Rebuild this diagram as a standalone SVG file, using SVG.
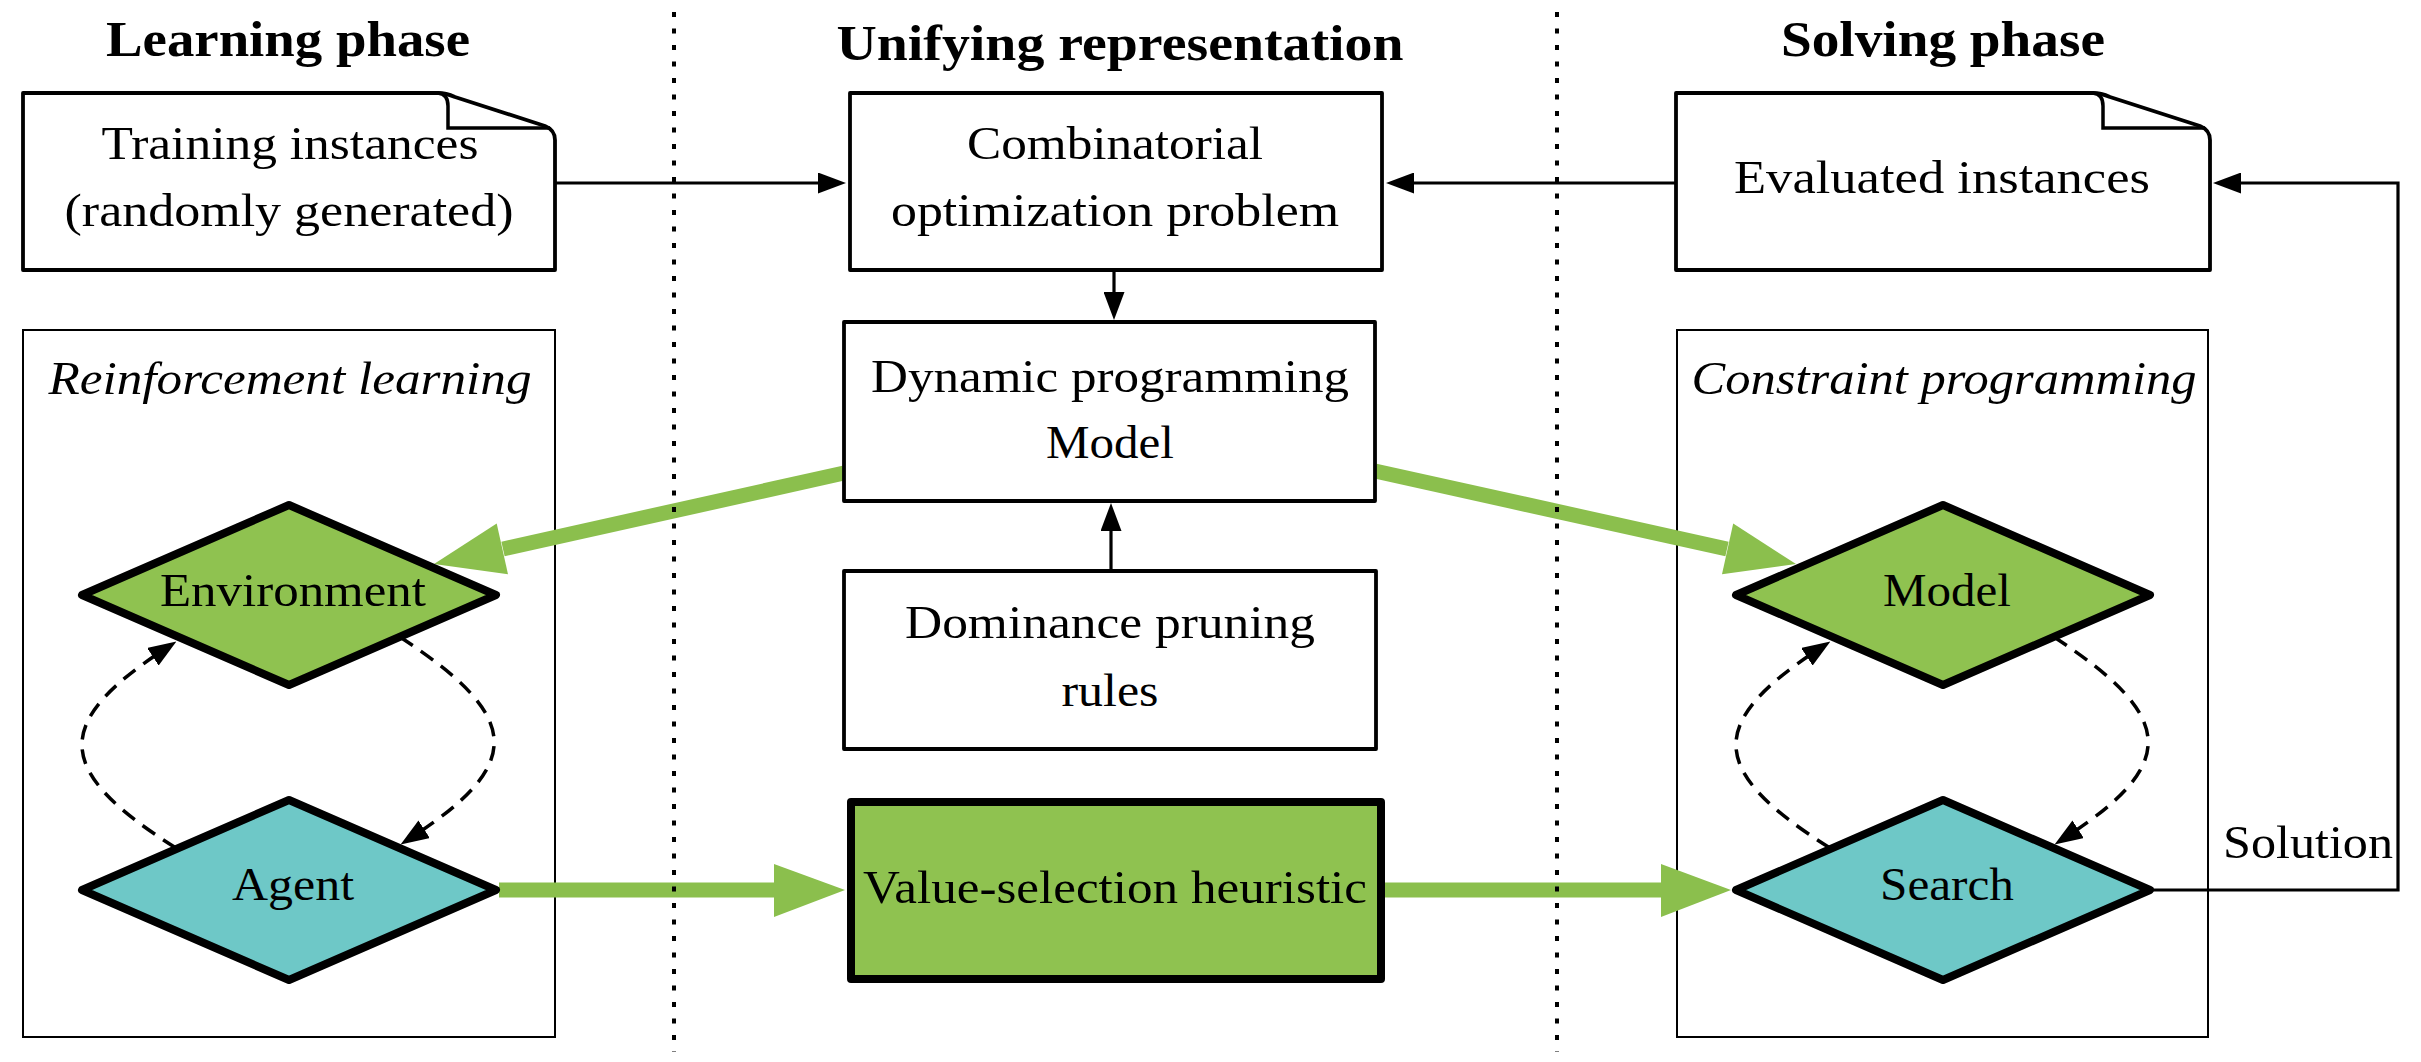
<svg xmlns="http://www.w3.org/2000/svg" width="2421" height="1062" viewBox="0 0 2421 1062">
<style>
.box{fill:#fff;stroke:#000;stroke-width:3.8;stroke-linejoin:round}
.cont{fill:none;stroke:#000;stroke-width:2}
.dia{stroke:#000;stroke-width:8;stroke-linejoin:round}
.green{fill:#8fc250}
.teal{fill:#6ec8c7}
.t{font-family:"Liberation Serif","Times New Roman",serif;font-size:46px;text-anchor:middle;fill:#000}
.h{font-weight:bold;font-size:50px}
.i{font-style:italic}
.ln{fill:none;stroke:#000;stroke-width:3.2}
.dash{stroke-width:3.5;stroke-dasharray:15 10}
.g{fill:none;stroke:#8bbf4d;stroke-width:15}
.gh{fill:#8bbf4d}
.dot{fill:none;stroke:#000;stroke-width:4;stroke-dasharray:5 11.5}
</style>
<defs>
<marker id="ah" markerUnits="userSpaceOnUse" viewBox="0 0 28 21" markerWidth="28" markerHeight="21" refX="18" refY="10.5" orient="auto">
<path d="M0,0 L28,10.5 L0,21 Z" fill="#000"/>
</marker>
</defs>
<rect width="2421" height="1062" fill="#fff"/>

<g id="headers">
<text class="t h" x="288" y="56" textLength="364" lengthAdjust="spacingAndGlyphs">Learning phase</text>
<text class="t h" x="1120" y="60" textLength="567" lengthAdjust="spacingAndGlyphs">Unifying representation</text>
<text class="t h" x="1943" y="56" textLength="324" lengthAdjust="spacingAndGlyphs">Solving phase</text>
</g>

<g id="rl-container">
<rect class="cont" x="23" y="330" width="532" height="707"/>
<text class="t i" x="290" y="394" textLength="483" lengthAdjust="spacingAndGlyphs">Reinforcement learning</text>
</g>
<g id="cp-container">
<rect class="cont" x="1677" y="330" width="531" height="707"/>
<text class="t i" x="1944" y="394" textLength="505" lengthAdjust="spacingAndGlyphs">Constraint programming</text>
</g>

<g id="connectors">
<path class="ln" d="M555,183 H836" marker-end="url(#ah)"/>
<path class="ln" d="M1676,183 H1396" marker-end="url(#ah)"/>
<path class="ln" d="M1114,270 V310" marker-end="url(#ah)"/>
<path class="ln" d="M1111,571 V513" marker-end="url(#ah)"/>
<path class="ln" d="M2150,890 H2398 V183 H2223" marker-end="url(#ah)"/>
<path class="ln dash" d="M176,848 C52,770 52,722 168,647" marker-end="url(#ah)"/>
<path class="ln dash" d="M400,637 C524,718 524,765 409,839" marker-end="url(#ah)"/>
<path class="ln dash" d="M1830,848 C1706,770 1706,722 1822,647" marker-end="url(#ah)"/>
<path class="ln dash" d="M2054,637 C2178,718 2178,765 2063,839" marker-end="url(#ah)"/>
<line class="g" x1="844" y1="473" x2="503" y2="549"/>
<polygon class="gh" points="434,564 508,574.2 496.7,523.4"/>
<line class="g" x1="1375" y1="471" x2="1727" y2="549"/>
<polygon class="gh" points="1796,564 1722,574.3 1733.2,523.5"/>
<line class="g" x1="499" y1="890" x2="776" y2="890"/>
<polygon class="gh" points="845,890 774,864 774,917"/>
<line class="g" x1="1385" y1="890" x2="1663" y2="890"/>
<polygon class="gh" points="1731,890 1661,864 1661,917"/>
<text class="t" x="2308" y="858" textLength="170" lengthAdjust="spacingAndGlyphs">Solution</text>
</g>

<g id="training">
<path class="box" d="M23,93 H438 Q446,93 455,97 L545,126 Q555,130 555,140 V270 H23 Z"/>
<path class="ln" style="stroke-width:3.5" d="M438,93 Q448,94 448,106 V128 H550"/>
<text class="t" x="290" y="159" textLength="377" lengthAdjust="spacingAndGlyphs">Training instances</text>
<text class="t" x="289" y="226" textLength="449" lengthAdjust="spacingAndGlyphs">(randomly generated)</text>
</g>

<g id="evaluated">
<path class="box" d="M1676,93 H2093 Q2101,93 2110,97 L2200,126 Q2210,130 2210,140 V270 H1676 Z"/>
<path class="ln" style="stroke-width:3.5" d="M2093,93 Q2103,94 2103,106 V128 H2205"/>
<text class="t" x="1942" y="193" textLength="416" lengthAdjust="spacingAndGlyphs">Evaluated instances</text>
</g>

<g id="combinatorial">
<rect class="box" x="850" y="93" width="532" height="177"/>
<text class="t" x="1115" y="159" textLength="296" lengthAdjust="spacingAndGlyphs">Combinatorial</text>
<text class="t" x="1115" y="226" textLength="448" lengthAdjust="spacingAndGlyphs">optimization problem</text>
</g>

<g id="dp-model">
<rect class="box" x="844" y="322" width="531" height="179"/>
<text class="t" x="1110" y="392" textLength="478" lengthAdjust="spacingAndGlyphs">Dynamic programming</text>
<text class="t" x="1110" y="458" textLength="128" lengthAdjust="spacingAndGlyphs">Model</text>
</g>

<g id="dominance">
<rect class="box" x="844" y="571" width="532" height="178"/>
<text class="t" x="1110" y="638" textLength="410" lengthAdjust="spacingAndGlyphs">Dominance pruning</text>
<text class="t" x="1110" y="706" textLength="97" lengthAdjust="spacingAndGlyphs">rules</text>
</g>

<g id="value-selection">
<rect class="green" x="851" y="802" width="530" height="177" stroke="#000" stroke-width="8" stroke-linejoin="round"/>
<text class="t" x="1115" y="903" textLength="504" lengthAdjust="spacingAndGlyphs">Value-selection heuristic</text>
</g>

<g id="environment">
<polygon class="dia green" points="82,595 289,505 496,595 289,685"/>
<text class="t" x="293" y="606" textLength="266" lengthAdjust="spacingAndGlyphs">Environment</text>
</g>
<g id="agent">
<polygon class="dia teal" points="82,890 289,800 496,890 289,980"/>
<text class="t" x="293" y="900" textLength="122" lengthAdjust="spacingAndGlyphs">Agent</text>
</g>
<g id="cp-model">
<polygon class="dia green" points="1736,595 1943,505 2150,595 1943,685"/>
<text class="t" x="1947" y="606" textLength="128" lengthAdjust="spacingAndGlyphs">Model</text>
</g>
<g id="search">
<polygon class="dia teal" points="1736,890 1943,800 2150,890 1943,980"/>
<text class="t" x="1947" y="900" textLength="134" lengthAdjust="spacingAndGlyphs">Search</text>
</g>

<g id="separators">
<line class="dot" x1="674" y1="12" x2="674" y2="1052"/>
<line class="dot" x1="1557" y1="12" x2="1557" y2="1052"/>
</g>
</svg>
